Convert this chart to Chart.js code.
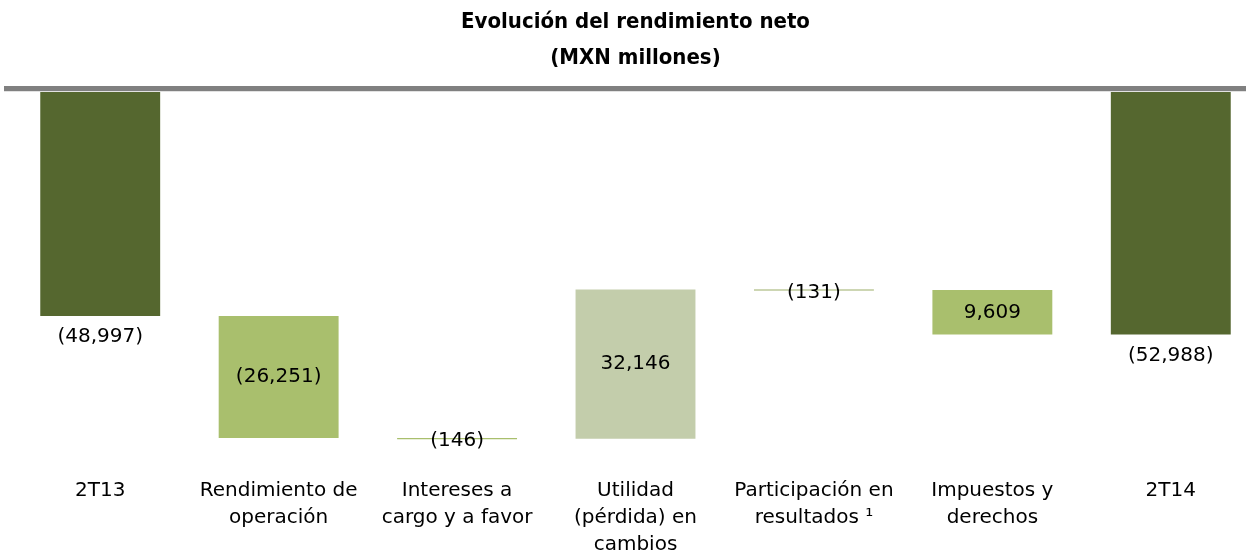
<!DOCTYPE html>
<html>
<head>
<meta charset="utf-8">
<script src="https://cdn.jsdelivr.net/npm/chart.js@4"></script>
<style>
  html, body { margin: 0; padding: 0; background: #fff; overflow: hidden; }
  #wrap { width: 1262px; height: 558px; }
</style>
</head>
<body>
<div id="wrap"><canvas id="chart"></canvas></div>
<script>
// ----- Data -----
const categories = [
  ["2T13"],
  ["Rendimiento de", "operación"],
  ["Intereses a", "cargo y a favor"],
  ["Utilidad", "(pérdida) en", "cambios"],
  ["Participación en", "resultados ¹"],
  ["Impuestos y", "derechos"],
  ["2T14"]
];
const changes = [-48997, -26251, -146, 32146, -131, -9609, -52988];
const isTotal = [true, false, false, false, false, false, true];
const valueLabels = ["(48,997)", "(26,251)", "(146)", "32,146", "(131)", "9,609", "(52,988)"];
const barColors = ["#55672f", "#a9bf6d", "#a9bf6d", "#c3cdab", "#9cad68", "#a9bf6d", "#55672f"];

// ----- Waterfall ranges -----
let running = 0;
const ranges = changes.map((v, i) => {
  if (isTotal[i]) {
    running = v;
    return [0, v];
  }
  const start = running;
  running += v;
  return [start, running];
});

const FONT = "'DejaVu Sans', sans-serif";

// ----- Plugins -----
const zeroLine = {
  id: "zeroLine",
  afterDatasetsDraw(chart) {
    const ctx = chart.ctx;
    const y = chart.scales.y.getPixelForValue(0);
    ctx.save();
    ctx.fillStyle = "#808080";
    ctx.fillRect(4, y - 2.5, chart.width, 5);
    ctx.fillStyle = "#e2e2e2";
    ctx.fillRect(4, y + 2.5, chart.width, 1);
    ctx.restore();
  }
};

const barLabels = {
  id: "barLabels",
  afterDatasetsDraw(chart) {
    const ctx = chart.ctx;
    const meta = chart.getDatasetMeta(0);
    ctx.save();
    ctx.font = "20px " + FONT;
    ctx.fillStyle = "#000";
    ctx.textAlign = "center";
    ctx.textBaseline = "middle";
    meta.data.forEach((bar, i) => {
      const top = Math.min(bar.y, bar.base);
      const bottom = Math.max(bar.y, bar.base);
      let y;
      if (isTotal[i]) {
        y = bottom + 21;
      } else if (bottom - top < 30) {
        y = bottom + 2;
      } else {
        y = (top + bottom) / 2;
      }
      ctx.fillText(valueLabels[i], bar.x, y);
    });
    ctx.restore();
  }
};

// ----- Chart -----
new Chart(document.getElementById("chart"), {
  type: "bar",
  data: {
    labels: categories,
    datasets: [{
      data: ranges,
      backgroundColor: barColors,
      borderWidth: 0,
      borderSkipped: false,
      minBarLength: 1.2,
      barPercentage: 1,
      categoryPercentage: 0.672
    }]
  },
  options: {
    responsive: true,
    maintainAspectRatio: false,
    animation: false,
    layout: { padding: { left: 11, right: 2, top: 0, bottom: 0 } },
    plugins: {
      legend: { display: false },
      tooltip: { enabled: false },
      title: {
        display: true,
        text: ["Evolución del rendimiento neto", "(MXN millones)"],
        color: "#000",
        font: { family: "'DejaVu Sans Condensed', " + FONT, size: 22, weight: "bold", lineHeight: "36px" },
        padding: { top: 4, bottom: 12.5 }
      }
    },
    scales: {
      x: {
        offset: true,
        grid: { display: false, drawTicks: false },
        border: { display: false },
        ticks: {
          color: "#000",
          padding: 0,
          maxRotation: 0,
          autoSkip: false,
          font: { family: FONT, size: 20, lineHeight: "27px" }
        }
      },
      y: {
        display: false,
        min: -83640,
        max: 0
      }
    }
  },
  plugins: [zeroLine, barLabels]
});
</script>
</body>
</html>
